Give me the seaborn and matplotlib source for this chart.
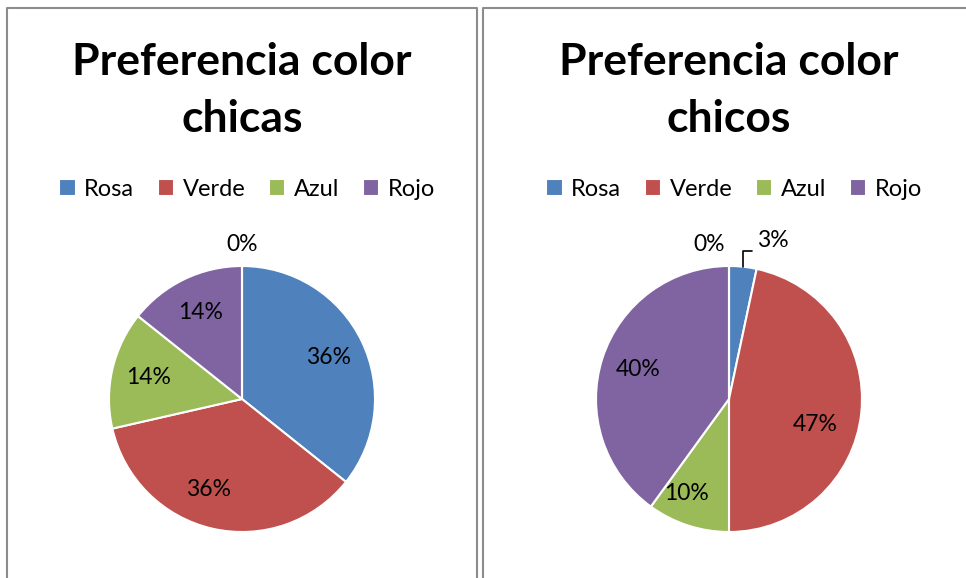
"""Pie charts: colour preference for girls and boys"""

import matplotlib

matplotlib.use("Agg")
import matplotlib.pyplot as plt
import numpy as np
import seaborn as sns
from matplotlib.lines import Line2D

# data
categories = ["Rosa", "Verde", "Azul", "Rojo", ""]
chicas = [5, 5, 2, 2, 0]
chicos = [1, 14, 3, 12, 0]
titles = ["Preferencia color\nchicas", "Preferencia color\nchicos"]
colors = ["#4F81BD", "#C0504D", "#9BBB59", "#8064A2", "#F79646"]

sns.set_theme(style="white")
plt.rcParams["font.family"] = ["Lato", "DejaVu Sans"]
plt.rcParams["text.color"] = "black"

W, H = 966, 578
fig = plt.figure(figsize=(W / 100, H / 100), dpi=100)
fig.patch.set_facecolor("white")


# pixel coords -> figure coords
def fx(x):
    return x / W


def fy(y):
    return 1 - y / H


# panel borders
border = dict(color="#8c8c8c", lw=1.5, transform=fig.transFigure)
fig.add_artist(Line2D([fx(7), fx(7), fx(477), fx(477)], [0, fy(8), fy(8), 0], **border))
fig.add_artist(Line2D([fx(483), fx(483), 1.01], [0, fy(8), fy(8)], **border))

centers = [242, 729]
radius_px = 133
lim = 1.3
size = radius_px * lim * 2

for i, (values, title) in enumerate(zip([chicas, chicos], titles)):
    cx = centers[i]
    ax = fig.add_axes([fx(cx - size / 2), (H - 399 - size / 2) / H, size / W, size / H])
    wedges, texts, autotexts = ax.pie(
        values,
        colors=colors,
        startangle=90,
        counterclock=False,
        autopct=lambda p: f"{p:.0f}%",
        pctdistance=0.72,
        wedgeprops=dict(edgecolor="white", linewidth=1.5),
        textprops=dict(fontsize=16.5, color="black"),
    )
    ax.set_xlim(-lim, lim)
    ax.set_ylim(-lim, lim)
    ax.set_aspect("equal")
    ax.axis("off")

    # zero slice label sits outside the pie, Excel-like best fit for others
    zero = autotexts[-1]
    if i == 0:
        zero.set_position((0, 1.16))
        autotexts[1].set_position((-0.25, -0.68))
    else:
        zero.set_position((-0.15, 1.16))
        autotexts[1].set_position((0.65, -0.19))
        autotexts[2].set_position((-0.32, -0.71))
        # small slice label with leader line
        w = wedges[0]
        mid = np.deg2rad((w.theta1 + w.theta2) / 2)
        x0, y0 = np.cos(mid), np.sin(mid)
        ax.plot([x0, x0, 0.17], [y0, 1.11, 1.11], color="black", lw=1.2)
        autotexts[0].set_position((0.33, 1.19))

    lines = title.split("\n")
    fig.text(fx(cx), fy(75), lines[0], ha="center", va="baseline",
             fontsize=32, fontweight="bold", color="black")
    fig.text(fx(cx), fy(132), lines[1], ha="center", va="baseline",
             fontsize=32, fontweight="bold", color="black")

    fig.legend(
        wedges[:4],
        categories[:4],
        loc="center",
        bbox_to_anchor=(fx(cx + 5), fy(189)),
        ncol=4,
        frameon=False,
        fontsize=17,
        handlelength=0.7,
        handleheight=0.7,
        handletextpad=0.35,
        columnspacing=1.0,
    )

fig.savefig("out.png", dpi=100)
